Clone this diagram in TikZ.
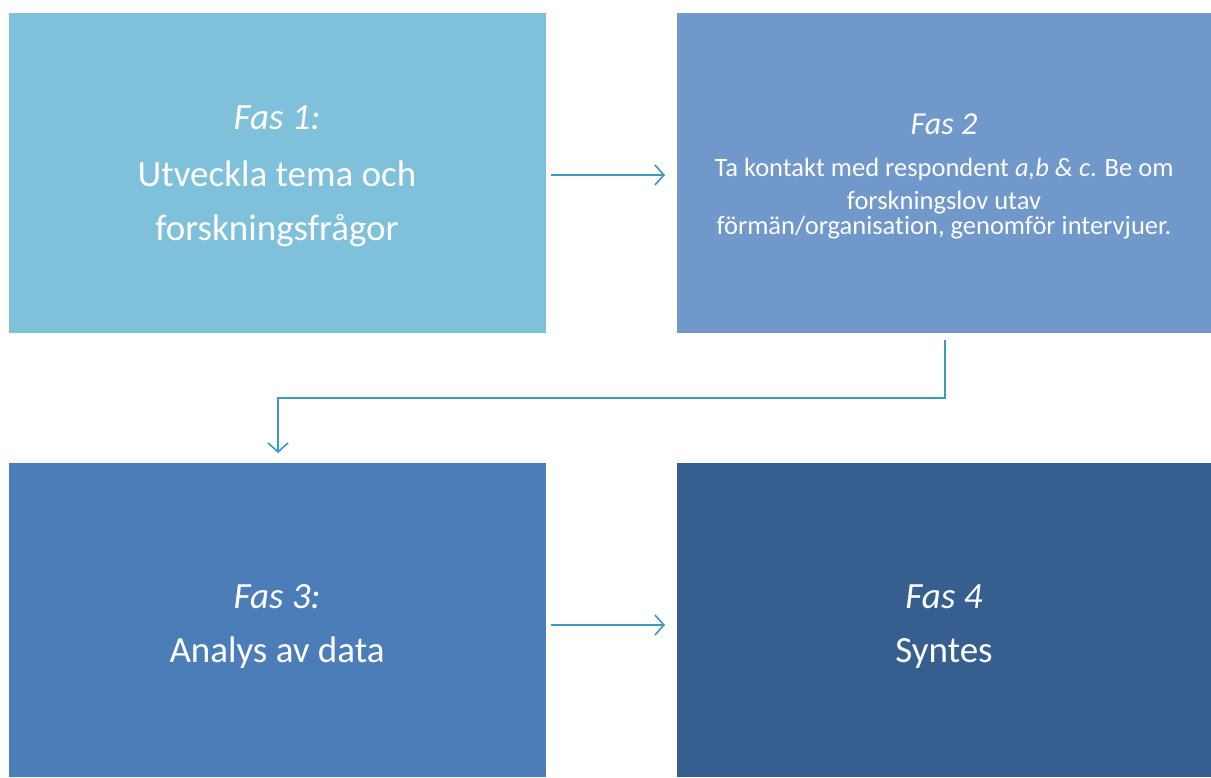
\documentclass[tikz,border=0pt]{standalone}
\usepackage{fontspec}
\setmainfont{Carlito}[Ligatures=NoCommon]
\usetikzlibrary{arrows.meta}
\definecolor{faseA}{HTML}{7FC1DB}
\definecolor{faseB}{HTML}{7098CA}
\definecolor{faseC}{HTML}{4B7DB9}
\definecolor{faseD}{HTML}{365E8F}
\definecolor{flow}{HTML}{3B9AC0}
\tikzset{
  phasebox/.style={draw=none, inner sep=0pt},
  big/.style={text=white, font=\fontsize{37}{44}\selectfont, inner sep=0pt, anchor=center},
  small/.style={text=white, font=\fontsize{26.5}{32}\selectfont, inner sep=0pt, anchor=center},
  flowarrow/.style={draw=flow, line width=1.6pt, -{Straight Barb[length=9pt,width=20pt,line width=1.6pt]}}
}
\begin{document}
\begin{tikzpicture}[x=1pt,y=-1pt]
\useasboundingbox (0,0) rectangle (1211,777);
% phase boxes
\fill[faseA] (9,13) rectangle (546,333);
\fill[faseB] (677,13) rectangle (1211,333);
\fill[faseC] (9,463) rectangle (546,777);
\fill[faseD] (677,463) rectangle (1211,777);
\node[phasebox] (b1) at (277.5,173) {};
\node[phasebox] (b2) at (944,173) {};
\node[phasebox] (b3) at (277.5,620) {};
\node[phasebox] (b4) at (944,620) {};
% texts
\node[big] (t1a) at (277,118) {\itshape Fas 1:};
\node[big] (t1b) at (277,174) {Utveckla tema och};
\node[big] (t1c) at (277,231) {forskningsfrågor};
\node[small, font=\fontsize{32}{38}\selectfont] (t2a) at (944,124) {\itshape Fas 2};
\node[small] (t2b) at (944,169) {Ta kontakt med respondent \textit{a,b \& c}. Be om};
\node[small] (t2c) at (944,203) {forskningslov utav};
\node[small] (t2d) at (944,228) {förmän/organisation, genomför intervjuer.};
\node[big] (t3a) at (277,597) {\itshape Fas 3:};
\node[big] (t3b) at (277,653) {Analys av data};
\node[big] (t4a) at (944,597) {\itshape Fas 4};
\node[big] (t4b) at (944,653) {Syntes};
% connectors
\coordinate (a1s) at (551,175);
\coordinate (a1e) at (665,175);
\coordinate (a2s) at (945,340);
\coordinate (a2m) at (945,398);
\coordinate (a2n) at (278,398);
\coordinate (a2e) at (278,453);
\coordinate (a3s) at (551,625);
\coordinate (a3e) at (665,625);
\draw[flowarrow] (a1s) -- (a1e);
\draw[flowarrow] (a2s) -- (a2m) -- (a2n) -- (a2e);
\draw[flowarrow] (a3s) -- (a3e);
\end{tikzpicture}
\end{document}
